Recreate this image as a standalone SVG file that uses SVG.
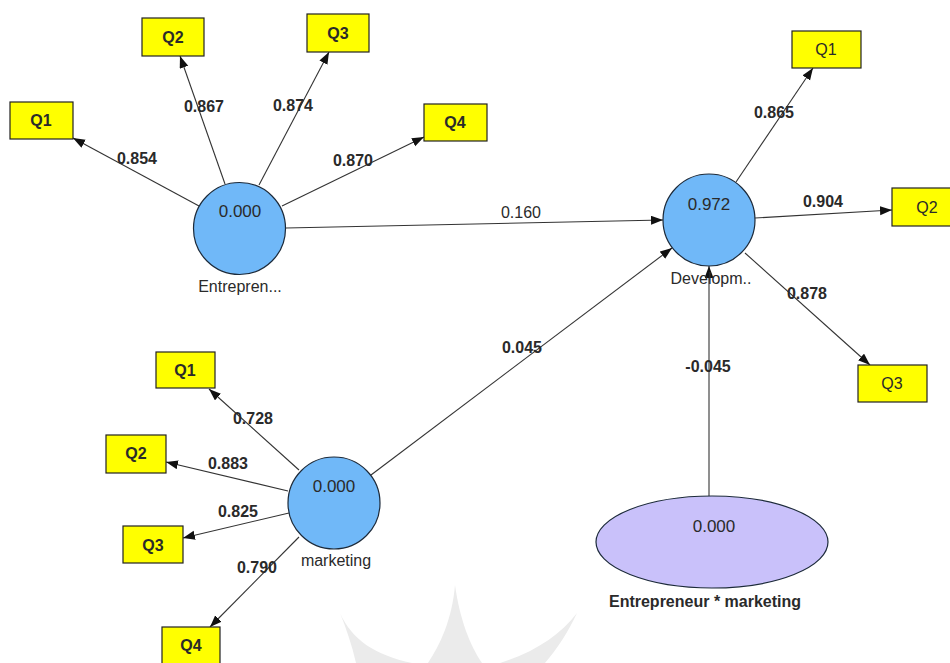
<svg xmlns="http://www.w3.org/2000/svg" width="950" height="663" viewBox="0 0 950 663">
<defs>
<marker id="arr" markerUnits="userSpaceOnUse" markerWidth="14" markerHeight="10" refX="12" refY="4.5" orient="auto">
<path d="M0,0 L12,4.5 L0,9 Z" fill="#111"/>
</marker>
<style>
.lv{fill:#70b8f8;stroke:#1c2a3a;stroke-width:1.2}
.int{fill:#c9c1fa;stroke:#1c2a3a;stroke-width:1.2}
.box{fill:#ffff00;stroke:#222;stroke-width:1.2}
.e{stroke:#333;stroke-width:1.1;fill:none;marker-end:url(#arr)}
text{font-family:"Liberation Sans",Arial,sans-serif;font-size:16px;fill:#2a2a2a;text-anchor:middle}
.b{font-weight:bold}
.v{font-size:17px}
.wm{fill:#ebebeb}
</style>
</defs>
<rect width="950" height="663" fill="#ffffff"/>
<g id="watermark">
<path class="wm" d="M340,613 C352,640 375,655 412,663 L356,663 C352,645 346,628 340,613 Z"/>
<path class="wm" d="M455,585 C452,620 440,645 428,663 L482,663 C470,645 460,620 455,585 Z"/>
<path class="wm" d="M577,613 C560,635 535,652 500,663 L545,663 C558,648 568,632 577,613 Z"/>
</g>
<g id="connectors">
<line class="e" x1="199" y1="206" x2="73" y2="138"/>
<line class="e" x1="225" y1="184" x2="180" y2="56"/>
<line class="e" x1="259" y1="185" x2="329" y2="52"/>
<line class="e" x1="282" y1="206" x2="424" y2="137"/>
<line class="e" x1="286" y1="228" x2="663" y2="220"/>
<line class="e" x1="371" y1="475" x2="672" y2="248"/>
<line class="e" x1="709" y1="496" x2="709" y2="266"/>
<line class="e" x1="736" y1="182" x2="813" y2="68"/>
<line class="e" x1="755" y1="218" x2="892" y2="210"/>
<line class="e" x1="745" y1="253" x2="870" y2="365"/>
<line class="e" x1="299" y1="470" x2="209" y2="389"/>
<line class="e" x1="288" y1="491" x2="166" y2="462"/>
<line class="e" x1="289" y1="513" x2="183" y2="538"/>
<line class="e" x1="299" y1="537" x2="210" y2="627"/>
<text class="b" x="137" y="164">0.854</text>
<text class="b" x="204" y="112">0.867</text>
<text class="b" x="293" y="111">0.874</text>
<text class="b" x="353" y="166">0.870</text>
<text x="521" y="218">0.160</text>
<text class="b" x="522" y="353">0.045</text>
<text class="b" x="708" y="372">-0.045</text>
<text class="b" x="774" y="118">0.865</text>
<text class="b" x="823" y="207">0.904</text>
<text class="b" x="807" y="299">0.878</text>
<text class="b" x="253" y="424">0.728</text>
<text class="b" x="228" y="469">0.883</text>
<text class="b" x="238" y="517">0.825</text>
<text class="b" x="257" y="573">0.790</text>
</g>
<g id="entrepreneur">
<circle class="lv" cx="239.5" cy="228.5" r="46"/>
<text class="v" x="240" y="217">0.000</text>
<text x="240" y="292">Entrepren...</text>
</g>
<g id="development">
<circle class="lv" cx="709" cy="220" r="46"/>
<text class="v" x="709" y="210">0.972</text>
<text x="711" y="284">Developm..</text>
</g>
<g id="marketing">
<circle class="lv" cx="334" cy="503" r="46"/>
<text class="v" x="334" y="492">0.000</text>
<text x="336" y="566">marketing</text>
</g>
<g id="interaction">
<ellipse class="int" cx="712" cy="542" rx="116" ry="46"/>
<text class="v" x="714" y="532">0.000</text>
<text class="b" x="705" y="607">Entrepreneur * marketing</text>
</g>
<g id="ent-q1"><rect class="box" x="10" y="102" width="63" height="37"/><text class="b" x="41" y="126">Q1</text></g>
<g id="ent-q2"><rect class="box" x="142" y="18" width="62" height="38"/><text class="b" x="173" y="43">Q2</text></g>
<g id="ent-q3"><rect class="box" x="307" y="14" width="62" height="38"/><text class="b" x="338" y="39">Q3</text></g>
<g id="ent-q4"><rect class="box" x="424" y="104" width="63" height="37"/><text class="b" x="455" y="128">Q4</text></g>
<g id="dev-q1"><rect class="box" x="792" y="31" width="69" height="37"/><text x="826" y="55">Q1</text></g>
<g id="dev-q2"><rect class="box" x="892" y="188" width="62" height="38"/><text x="927" y="213">Q2</text></g>
<g id="dev-q3"><rect class="box" x="858" y="365" width="69" height="37"/><text x="892" y="389">Q3</text></g>
<g id="mkt-q1"><rect class="box" x="156" y="352" width="59" height="36"/><text class="b" x="185" y="376">Q1</text></g>
<g id="mkt-q2"><rect class="box" x="106" y="435" width="60" height="38"/><text class="b" x="136" y="459">Q2</text></g>
<g id="mkt-q3"><rect class="box" x="123" y="526" width="60" height="37"/><text class="b" x="153" y="551">Q3</text></g>
<g id="mkt-q4"><rect class="box" x="162" y="627" width="58" height="40"/><text class="b" x="191" y="651">Q4</text></g>
</svg>
